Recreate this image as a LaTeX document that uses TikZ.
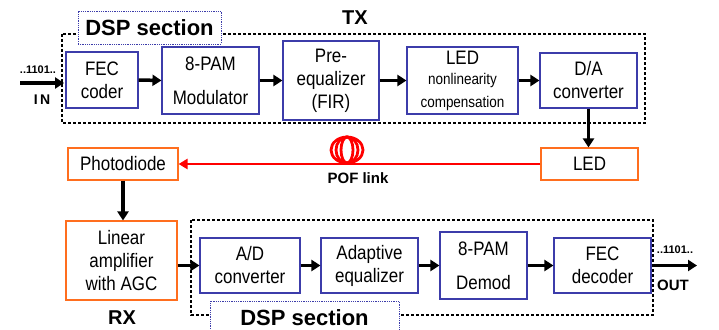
\documentclass[tikz,border=0pt]{standalone}
\usepackage{fontspec}
\setmainfont{Liberation Sans}
\newfontfamily\boxfont[FakeStretch=0.87]{Liberation Sans}
\usetikzlibrary{arrows.meta}
\definecolor{dspblue}{RGB}{60,60,170}
\definecolor{pdorange}{RGB}{255,110,30}
\newcommand{\smallfs}{\fontsize{15.5}{17}\selectfont}
\begin{document}
\begin{tikzpicture}[x=1pt,y=-1pt,
 blk/.style={draw=dspblue, line width=1.1pt, fill=white, align=center, inner sep=0pt, font=\boxfont\fontsize{19.5}{23}\selectfont},
 obox/.style={draw=pdorange, line width=1.1pt, fill=white, align=center, inner sep=0pt, font=\boxfont\fontsize{19.5}{23}\selectfont},
 dspbox/.style={draw, dash pattern=on 3pt off 2pt, line width=1.3pt},
 lbl/.style={draw=dspblue, densely dotted, line width=0.8pt, fill=white, inner sep=0pt, font=\bfseries\fontsize{22}{24}\selectfont},
 flow/.style={line width=3.5pt, -{Triangle[length=9pt,width=11pt]}},
 bl/.style={font=\bfseries\fontsize{#1}{#1}\selectfont, inner sep=0pt},
 ]
\useasboundingbox (0,0) rectangle (719,329);
% TX section
\draw[dspbox] (62,34) rectangle (645,123);
\node[lbl, minimum width=143pt, minimum height=33pt] (dsptx) at (149.5,27.5) {DSP section};
\node[bl=20] (tx) at (355,18) {TX};
\node[blk, minimum width=72pt, minimum height=56pt] (fec) at (102,80) {FEC\\coder};
\node[blk, minimum width=97pt, minimum height=67pt] (mod) at (210.5,80.5) {8-PAM\\[11pt]Modulator};
\node[blk, minimum width=96pt, minimum height=79pt] (pre) at (331,80.5) {Pre-\\equalizer\\(FIR)};
\node[blk, minimum width=111pt, minimum height=67pt] (nl) at (462.5,80.5) {LED\\[-3pt]\smallfs nonlinearity\\\smallfs compensation};
\node[blk, minimum width=97pt, minimum height=55pt] (da) at (588.5,80.5) {D/A\\converter};
\coordinate (in) at (20,83);
\coordinate (inend) at (64,83);
\node[bl=11] (bits1) at (38,70) {..1101..};
\node[bl=14] (inlbl) at (42,100) {I\,N};
\draw[flow] (in) -- (inend);
\draw[flow] (fec.east) -- (mod.west);
\draw[flow] (mod.east) -- (pre.west);
\draw[flow] (pre.east) -- (nl.west);
\draw[flow] (nl.east) -- (da.west);
% optical link
\node[obox, minimum width=110pt, minimum height=32pt] (pd) at (123,164) {Photodiode};
\node[obox, minimum width=97pt, minimum height=32pt] (led) at (589.5,164) {LED};
\draw[flow] (da.south) -- (da.south |- led.north);
\draw[red, line width=2.5pt, -{Triangle[length=9pt,width=10pt]}] (led.west) -- (pd.east);
\foreach \rx in {16,11,6} \draw[red, line width=2.8pt] (347,150) ellipse [x radius=\rx pt, y radius=13pt];
\node[bl=15] (pof) at (358,178) {POF link};
% RX section
\node[obox, minimum width=111pt, minimum height=79pt] (lin) at (121.5,260.5) {Linear\\amplifier\\with AGC};
\draw[flow] (pd.south) -- (pd.south |- lin.north);
\draw[dspbox] (191,220) rectangle (653,315);
\node[lbl, minimum width=189pt, minimum height=34pt] (dsprx) at (304.5,318) {DSP section};
\node[bl=20] (rx) at (122,318) {RX};
\node[blk, minimum width=100pt, minimum height=55pt] (ad) at (250,265.5) {A/D\\converter};
\node[blk, minimum width=97pt, minimum height=55pt] (eq) at (369.5,265.5) {Adaptive\\equalizer};
\node[blk, minimum width=87pt, minimum height=67pt] (dem) at (483.5,265.5) {8-PAM\\[11pt]Demod};
\node[blk, minimum width=97pt, minimum height=55pt] (fecd) at (602.5,265.5) {FEC\\decoder};
\coordinate (out) at (697,265.5);
\node[bl=11] (bits2) at (675,250) {..1101..};
\node[bl=15] (outlbl) at (673,285) {OUT};
\draw[flow] (lin.east |- ad.west) -- (ad.west);
\draw[flow] (ad.east) -- (eq.west);
\draw[flow] (eq.east) -- (dem.west);
\draw[flow] (dem.east) -- (fecd.west);
\draw[flow] (fecd.east) -- (out);
\end{tikzpicture}
\end{document}
